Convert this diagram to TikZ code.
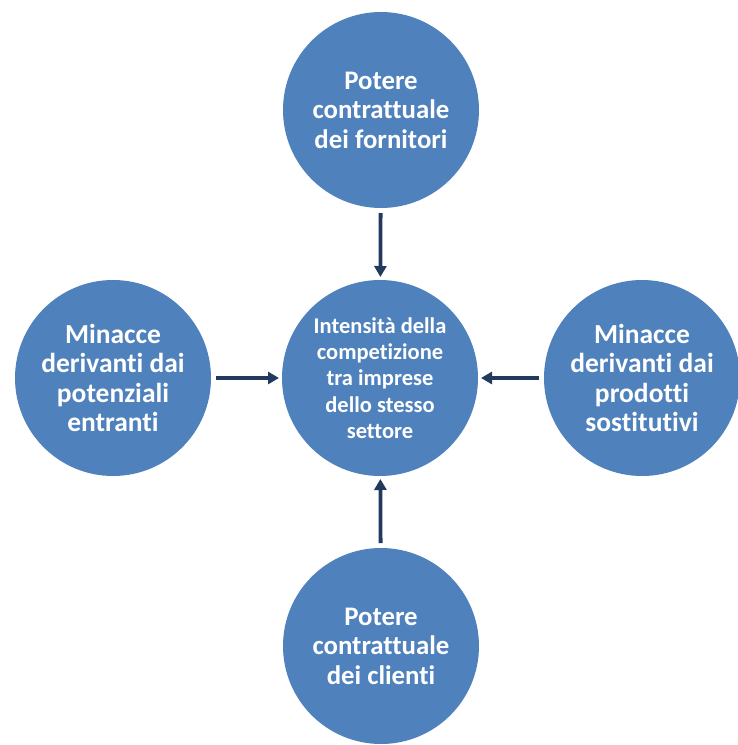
\documentclass[tikz,border=0pt]{standalone}
\usepackage{fontspec}
\setmainfont{Carlito}[Ligatures=NoCommon]
\usetikzlibrary{arrows.meta}
\definecolor{accent}{HTML}{4F81BD}
\definecolor{arrowcol}{HTML}{213A5E}
\begin{document}
\begin{tikzpicture}[x=1pt,y=-1pt,
  force/.style={circle, fill=accent, minimum size=196pt, inner sep=0pt, outer sep=0pt,
    text=white, align=center, font=\bfseries\fontsize{26.8}{29.5}\selectfont},
  core/.style={force, font=\bfseries\fontsize{22.5}{26.3}\selectfont},
  side/.style={force, font=\bfseries\fontsize{27.5}{29.5}\selectfont},
  link/.style={draw=arrowcol, line width=3.8pt, -{Triangle[length=11pt,width=12pt]},
    shorten <=5pt, shorten >=3pt}]
\path[use as bounding box] (0,0) rectangle (738,745);
% central rivalry and the four surrounding forces
\node[core]  (c) at (380,378) {Intensità della\\competizione\\tra imprese\\dello stesso\\settore};
\node[force] (t) at (381,110) {Potere\\contrattuale\\dei fornitori};
\node[force] (b) at (381,646) {Potere\\contrattuale\\dei clienti};
\node[side]  (l) at (113,378) {Minacce\\derivanti dai\\potenziali\\entranti};
\node[side]  (r) at (642,378) {Minacce\\derivanti dai\\prodotti\\sostitutivi};
% arrows pointing into the centre
\draw[link] (t) -- (c);
\draw[link] (b) -- (c);
\draw[link] (l) -- (c);
\draw[link] (r) -- (c);
\end{tikzpicture}
\end{document}
